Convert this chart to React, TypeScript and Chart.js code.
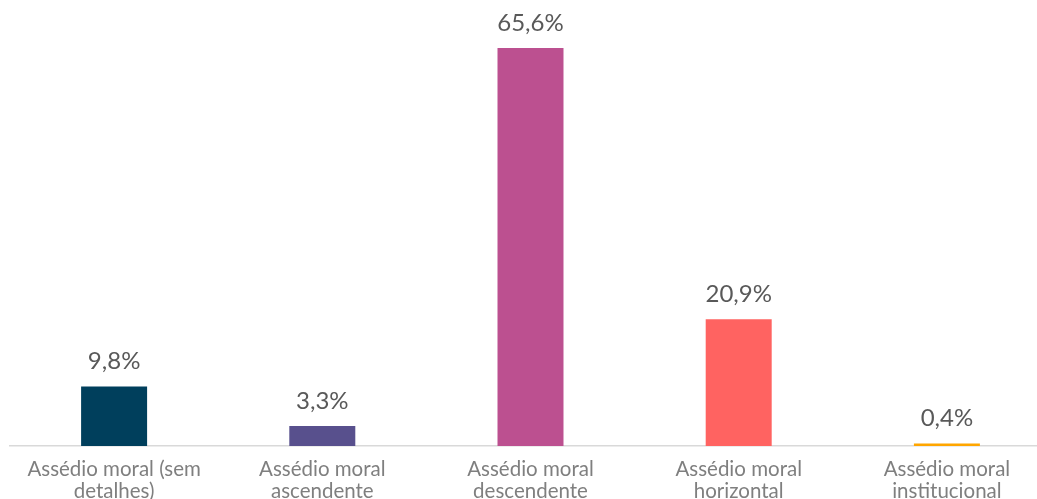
import React, { useEffect, useRef } from "react";
import { Chart, registerables } from "chart.js";

Chart.register(...registerables);

const categories: string[][] = [
  ["Assédio moral (sem", "detalhes)"],
  ["Assédio moral", "ascendente"],
  ["Assédio moral", "descendente"],
  ["Assédio moral", "horizontal"],
  ["Assédio moral", "institucional"],
];
const values: number[] = [9.8, 3.3, 65.6, 20.9, 0.4];
const colors: string[] = ["#003f5c", "#58508d", "#bc5090", "#ff6361", "#ffa600"];

const FONT = "Lato, 'Open Sans', sans-serif";

const valueLabels = {
  id: "valueLabels",
  afterDatasetsDraw(chart: any) {
    const ctx = chart.ctx;
    const meta = chart.getDatasetMeta(0);
    ctx.save();
    ctx.font = `24px ${FONT}`;
    ctx.fillStyle = "#595959";
    ctx.textAlign = "center";
    ctx.textBaseline = "bottom";
    meta.data.forEach((bar: any, i: number) => {
      const txt = values[i].toFixed(1).replace(".", ",") + "%";
      ctx.fillText(txt, bar.x, bar.y - 13);
    });
    ctx.restore();
  },
};

export default function App() {
  const ref = useRef<HTMLCanvasElement | null>(null);
  useEffect(() => {
    if (!ref.current) return;
    const chart = new Chart(ref.current, {
      type: "bar",
      data: {
        labels: categories,
        datasets: [
          {
            data: values,
            backgroundColor: colors,
            borderWidth: 0,
            barPercentage: 1,
            categoryPercentage: 0.317,
          },
        ],
      },
      options: {
        animation: false,
        responsive: false,
        maintainAspectRatio: false,
        layout: { padding: { left: 10, right: 0, top: 3, bottom: 0 } },
        plugins: { legend: { display: false }, tooltip: { enabled: false } },
        scales: {
          x: {
            grid: { display: false },
            border: { display: true, color: "#d9d9d9", width: 1.5 },
            ticks: {
              color: "#7f7f7f",
              font: { family: FONT, size: 20.5, lineHeight: "22px" },
              padding: 4,
              maxRotation: 0,
              autoSkip: false,
            },
          },
          y: {
            display: false,
            min: 0,
            max: 73,
          },
        },
      },
      plugins: [valueLabels],
    });
    return () => chart.destroy();
  }, []);
  return (
    <div style={{ position: "fixed", left: 0, top: 0, width: 1037, height: 499, overflow: "hidden", background: "#fff" }}>
      <canvas ref={ref} width={1051} height={506} style={{ display: "block", width: 1051, height: 506 }} />
    </div>
  );
}
